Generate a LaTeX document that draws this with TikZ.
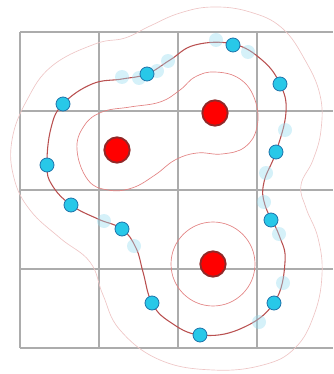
\documentclass[tikz,border=0pt]{standalone}
\usepackage{tikz}

\definecolor{gridgray}{RGB}{172,172,172}
\definecolor{isored}{RGB}{185,80,80}
\definecolor{levelred}{RGB}{226,130,130}
\definecolor{farred}{RGB}{238,198,198}
\definecolor{dotfill}{RGB}{40,200,232}
\definecolor{dotborder}{RGB}{30,115,170}
\definecolor{ghostfill}{RGB}{150,220,240}
\definecolor{chargeborder}{RGB}{145,40,40}

\tikzset{
  gridline/.style={draw=gridgray,line width=1.5pt},
  isoline/.style={draw=isored,line width=0.8pt},
  level/.style={draw=levelred,line width=0.5pt},
  farlevel/.style={draw=farred,line width=0.5pt},
  charge/.style={circle,draw=chargeborder,fill=red,line width=1.4pt,minimum size=19pt,inner sep=0pt},
  sample/.style={circle,draw=dotborder,fill=dotfill,line width=0.6pt,minimum size=10.5pt,inner sep=0pt},
  ghost/.style={circle,fill=ghostfill,fill opacity=0.4,minimum size=10.5pt,inner sep=0pt}
}

\begin{document}
\begin{tikzpicture}[x=0.75pt,y=-0.75pt]
\useasboundingbox (0,0) rectangle (333,374);

% grid
\draw[gridline] (20,32) -- (20,348);
\draw[gridline] (99,32) -- (99,348);
\draw[gridline] (178,32) -- (178,348);
\draw[gridline] (257,32) -- (257,348);
\draw[gridline] (20,32) -- (333,32);
\draw[gridline] (20,111) -- (333,111);
\draw[gridline] (20,190) -- (333,190);
\draw[gridline] (20,269) -- (333,269);
\draw[gridline] (20,348) -- (333,348);

% charges
\node[charge] (qa) at (117,150) {};
\node[charge] (qb) at (215,113) {};
\node[charge] (qc) at (213,264) {};

% level sets
\draw[farlevel] plot[smooth cycle,tension=0.7] coordinates {(12,140) (27,100) (52,66) (95,44) (125,38) (150,26) (180,13) (213,7) (250,12) (282,28) (305,60) (320,95) (321,130) (313,160) (301,185) (306,208) (318,238) (322,275) (314,315) (295,348) (263,365) (213,370) (160,360) (120,330) (103,295) (90,262) (60,238) (30,210) (14,178)};
\draw[level] plot[smooth cycle,tension=0.7] coordinates {(77,150) (84,126) (102,112) (130,107) (160,102) (180,90) (195,77) (215,72) (240,79) (255,100) (257,127) (245,147) (222,154) (197,153) (175,160) (155,175) (132,188) (108,190) (88,180)};
\draw[level] (qc) circle [radius=31.5pt];
\draw[isoline] plot[smooth cycle,tension=0.7] coordinates {(63,104) (92,84) (122,79) (147,74) (170,60) (195,45) (233,44) (262,60) (280,84) (286,112) (276,152) (264,182) (265,205) (279,235) (285,262) (274,303) (240,329) (200,335) (170,322) (152,303) (143,272) (136,248) (122,229) (98,219) (71,205) (52,185) (47,165) (51,128)};

% neighbouring samples
\node[ghost] (g1) at (122,77) {};
\node[ghost] (g2) at (139,78) {};
\node[ghost] (g3) at (157,71) {};
\node[ghost] (g4) at (168,61) {};
\node[ghost] (g5) at (216,40) {};
\node[ghost] (g6) at (248,52) {};
\node[ghost] (g7) at (285,130) {};
\node[ghost] (g8) at (266,173) {};
\node[ghost] (g9) at (264,202) {};
\node[ghost] (g10) at (279,234) {};
\node[ghost] (g11) at (283,283) {};
\node[ghost] (g12) at (259,322) {};
\node[ghost] (g13) at (104,221) {};
\node[ghost] (g14) at (134,246) {};

% samples on the isoline
\node[sample] (s1) at (63,104) {};
\node[sample] (s2) at (147,74) {};
\node[sample] (s3) at (233,45) {};
\node[sample] (s4) at (280,84) {};
\node[sample] (s5) at (276,152) {};
\node[sample] (s6) at (271,220) {};
\node[sample] (s7) at (274,303) {};
\node[sample] (s8) at (200,335) {};
\node[sample] (s9) at (152,303) {};
\node[sample] (s10) at (122,229) {};
\node[sample] (s11) at (71,205) {};
\node[sample] (s12) at (47,165) {};
\end{tikzpicture}
\end{document}
